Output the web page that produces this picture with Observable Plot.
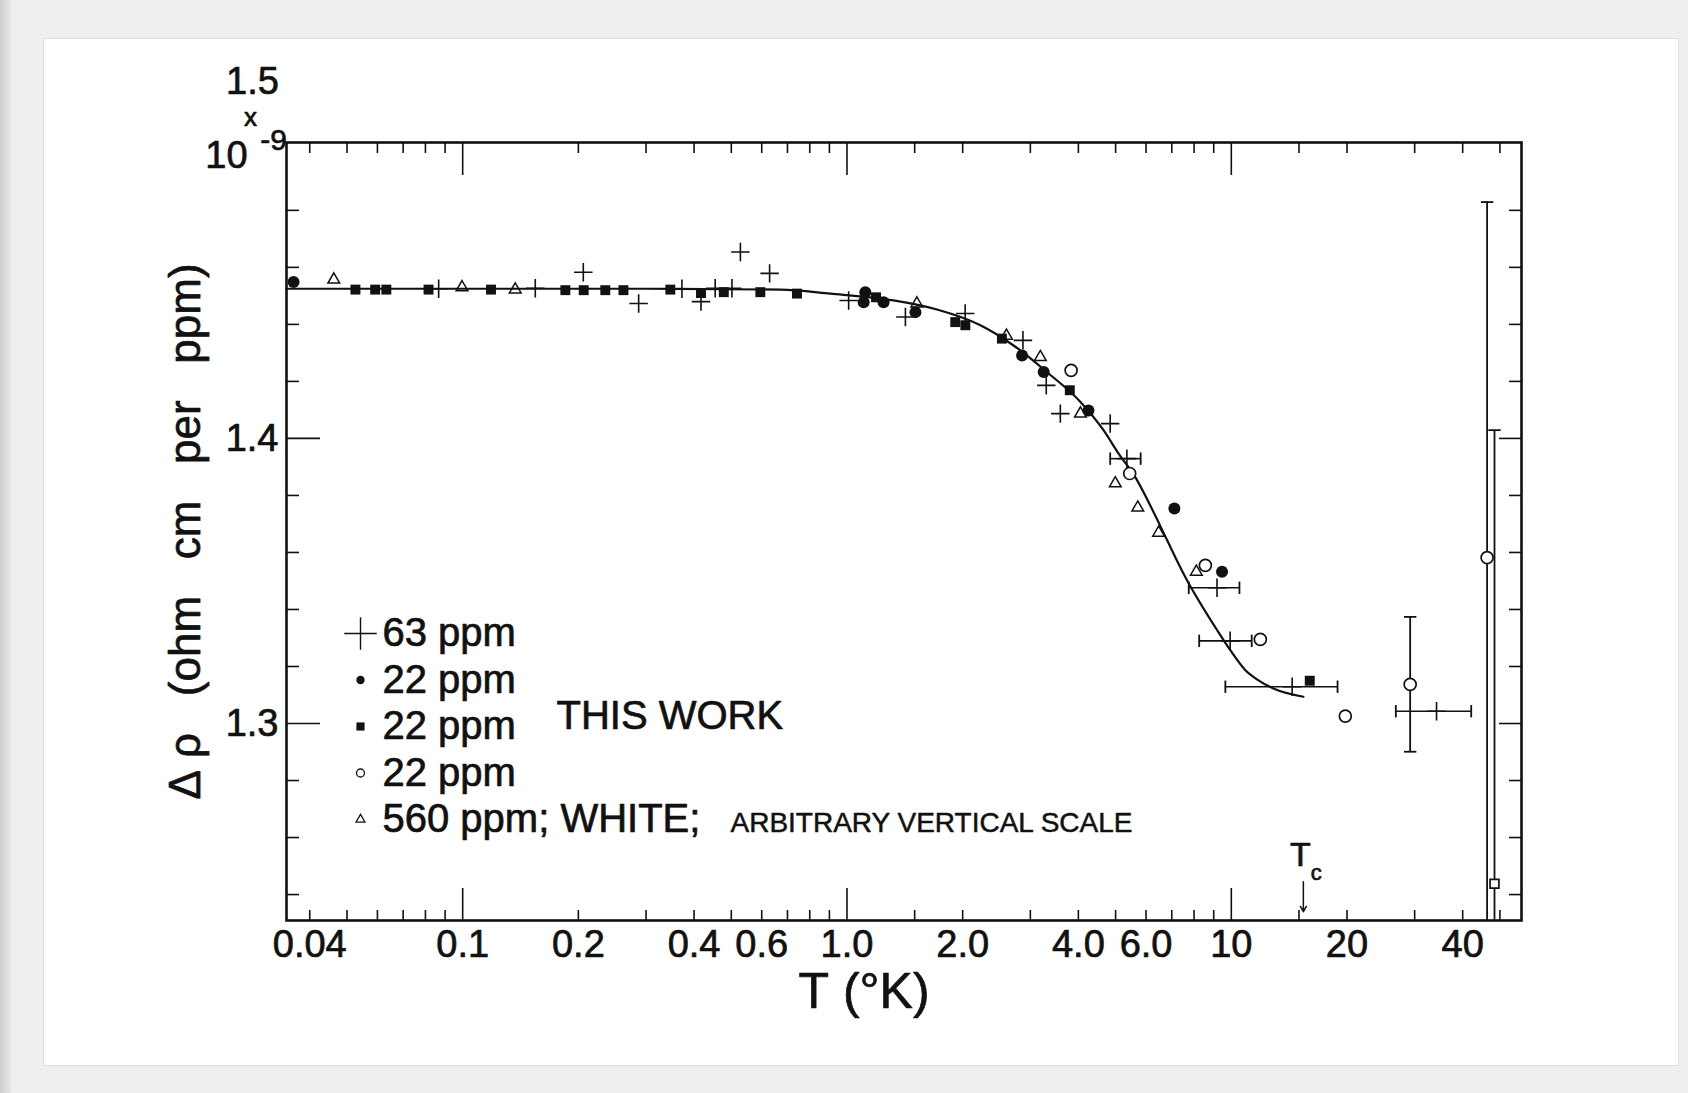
<!DOCTYPE html>
<html><head><meta charset="utf-8">
<script src="https://cdn.jsdelivr.net/npm/d3@7"></script>
<script src="https://cdn.jsdelivr.net/npm/@observablehq/plot@0.6"></script>
<style>
html,body{margin:0;padding:0;}
body{width:1688px;height:1093px;background:#efefef;position:relative;overflow:hidden;font-family:"Liberation Sans",Arial,sans-serif;}
#strip{position:absolute;left:0;top:0;width:11px;height:1093px;background:linear-gradient(to right,#cdcdcd,#e8e8e8);}
#card{position:absolute;left:43px;top:38px;width:1636px;height:1028px;background:#fff;border:1px solid #e2e2e2;box-sizing:border-box;}
#chart{position:absolute;left:0;top:0;}
</style></head><body>
<div id="strip"></div><div id="card"></div><div id="chart"></div>
<script>
// ---------- data (T in K, Δρ in 1e-9 ohm cm per ppm) ----------
const plus63 = [
  [0.0866,1.4525],[0.1545,1.4527],[0.206,1.4583],[0.287,1.4473],[0.372,1.4525],
  [0.417,1.4480],[0.454,1.4527],[0.502,1.4527],[0.528,1.4654],[0.629,1.4579],
  [1.01,1.4484],[1.419,1.4426],[2.03,1.4438],[2.87,1.4344],[3.30,1.4186],
  [3.59,1.4087],[4.84,1.4052],[5.35,1.3929],[9.18,1.3476],[9.93,1.3290],
  [14.4,1.3129],[34.2,1.3043]
];
// [T, value, T low, T high]
const plus63XErr = [
  [5.35,1.3929,4.84,5.81],[9.18,1.3476,7.75,10.5],[9.93,1.3290,8.25,11.3],
  [14.4,1.3129,9.65,18.9],[34.2,1.3043,26.8,42.1]
];
const filled22 = [
  [0.0363,1.4549],[1.105,1.4478],[1.116,1.4513],[1.245,1.4478],[1.507,1.4443],
  [2.855,1.4291],[3.25,1.4233],[4.25,1.4098],[7.11,1.3754],[9.46,1.3532]
];
const square22 = [
  [0.0526,1.4522],[0.0592,1.4522],[0.0633,1.4522],[0.0815,1.4522],[0.1185,1.4522],
  [0.185,1.4520],[0.2065,1.4520],[0.235,1.4520],[0.262,1.4520],[0.347,1.4522],
  [0.417,1.4510],[0.478,1.4513],[0.595,1.4513],[0.741,1.4508],[1.19,1.4495],
  [1.913,1.4408],[2.032,1.4397],[2.53,1.4350],[3.80,1.4169],[16.0,1.3150]
];
const open22 = [
  [3.83,1.4239],[5.44,1.3877],[8.56,1.3555],[11.9,1.3295],[19.8,1.3026],
  [29.2,1.3137],[46.3,1.3582]
];
const openSquare = [[48.4,1.2438]];
// [T, value low, value high]
const open22YErr = [[29.2,1.2901,1.3374],[46.3,1.20,1.4829],[48.4,1.20,1.4029]];
const tri560 = [
  [0.0462,1.4557],[0.0996,1.4530],[0.137,1.4522],[1.52,1.4473],[2.60,1.4360],
  [3.185,1.4285],[4.05,1.4087],[4.99,1.3842],[5.71,1.3757],[6.47,1.3669],[8.11,1.3532]
];
const fitCurve = [
  [0.0348,1.4525],[0.3,1.4525],[0.67,1.4522],[0.905,1.4508],[1.322,1.4484],
  [1.715,1.4452],[2.224,1.4397],[2.713,1.4326],[3.31,1.4233],[4.05,1.4128],
  [4.65,1.4029],[5.09,1.3947],[5.62,1.3865],[6.33,1.3731],[6.74,1.3655],
  [7.59,1.3514],[9.18,1.3328],[9.94,1.3257],[10.88,1.3187],[11.66,1.3155],
  [12.87,1.3123],[15.4,1.3094]
];
const tc = [[15.4, 1.2445, 1.2340]];
// ---------- axes / labels ----------
const xLabelTicks = [0.04,0.1,0.2,0.4,0.6,1,2,4,6,10,20,40];
const xLabelText  = ["0.04","0.1","0.2","0.4","0.6","1.0","2.0","4.0","6.0","10","20","40"];
const xMinorTicks = [0.04,0.05,0.06,0.07,0.08,0.09,0.2,0.3,0.4,0.5,0.6,0.7,0.8,0.9,1.5,2,3,4,5,6,7,8,9,15,20,30,40,50];
const xMajorTicks = [0.1,1,10];
const yLabelTicks = [1.3,1.4];
const yLabelText  = ["1.3","1.4"];
const yMinorTicks = [1.24,1.26,1.28,1.32,1.34,1.36,1.38,1.42,1.44,1.46,1.48];
const legendLabels = ["63 ppm","22 ppm","22 ppm","22 ppm","560 ppm; WHITE;"];
const legendNote = "ARBITRARY VERTICAL SCALE";
const thisWork = "THIS WORK";
const xTitle = "T\u00A0(°K)";
const yTitle = "Δ\u00A0ρ\u00A0\u00A0\u00A0(ohm\u00A0\u00A0\u00A0cm\u00A0\u00A0\u00A0per\u00A0\u00A0\u00A0ppm)";

// ---------- layout ----------
const W = 1688, H = 1093, mL = 286, mR = 167, mT = 142, mB = 173;
const FW = W - mL - mR, FH = H - mT - mB;
const INK = "#111";
const TS = {fill: INK, stroke: INK, strokeWidth: 0.7};   // slightly heavy lettering
const X = d => d[0], Y = d => d[1];
const vbar = {draw(ctx, size){ const h = Math.sqrt(size) / 2; ctx.moveTo(0,-h); ctx.lineTo(0,h); }};
const hbar = {draw(ctx, size){ const h = Math.sqrt(size) / 2; ctx.moveTo(-h,0); ctx.lineTo(h,0); }};
const rowY = i => 491 + i * 46.5;
const legendSyms = [
  {symbol:"plus", r:10.5, fill:"none", stroke:INK, sw:1.4},
  {symbol:"circle", r:4.2, fill:INK, stroke:"none", sw:0},
  {symbol:"square", r:4.6, fill:INK, stroke:"none", sw:0},
  {symbol:"circle", r:4, fill:"white", stroke:INK, sw:1.3},
  {symbol:"triangle2", r:4.2, fill:"none", stroke:INK, sw:1.3}
];
const FONT = "'Liberation Sans', Arial, sans-serif";

const marks = [
  // ticks (inward)
  Plot.ruleX(xMinorTicks, {x: d=>d, insetTop: FH-10, stroke: INK, strokeWidth: 1.6}),
  Plot.ruleX(xMajorTicks, {x: d=>d, insetTop: FH-32, stroke: INK, strokeWidth: 1.6}),
  Plot.ruleX(xMinorTicks, {x: d=>d, insetBottom: FH-11, stroke: INK, strokeWidth: 1.6}),
  Plot.ruleX(xMajorTicks, {x: d=>d, insetBottom: FH-33, stroke: INK, strokeWidth: 1.6}),
  Plot.ruleY(yMinorTicks, {y: d=>d, insetRight: FW-13, stroke: INK, strokeWidth: 1.6}),
  Plot.ruleY(yLabelTicks, {y: d=>d, insetRight: FW-34, stroke: INK, strokeWidth: 1.6}),
  Plot.ruleY(yMinorTicks, {y: d=>d, insetLeft: FW-12, stroke: INK, strokeWidth: 1.6}),
  Plot.ruleY(yLabelTicks, {y: d=>d, insetLeft: FW-22, stroke: INK, strokeWidth: 1.6}),
  Plot.frame({stroke: INK, strokeWidth: 2.6}),
  // tick labels
  Plot.text(xLabelTicks, {x: d=>d, text: (d,i)=>xLabelText[i], frameAnchor:"bottom", dy: 10, textAnchor:"middle", lineAnchor:"top", fontSize: 38, ...TS}),
  Plot.text(yLabelTicks, {y: d=>d, text: (d,i)=>yLabelText[i], frameAnchor:"left", dx: -8, textAnchor:"end", lineAnchor:"middle", fontSize: 38, ...TS}),
  Plot.text(["1.5"], {frameAnchor:"top-left", dx:-34, dy:-61, text:d=>d, fontSize:38, textAnchor:"middle", lineAnchor:"middle", ...TS}),
  Plot.text(["x"], {frameAnchor:"top-left", dx:-36, dy:-25, text:d=>d, fontSize:26, textAnchor:"middle", lineAnchor:"middle", ...TS}),
  Plot.text(["10"], {frameAnchor:"top-left", dx:-60, dy:13, text:d=>d, fontSize:38, textAnchor:"middle", lineAnchor:"middle", ...TS}),
  Plot.text(["-9"], {frameAnchor:"top-left", dx:-13, dy:-2, text:d=>d, fontSize:30, textAnchor:"middle", lineAnchor:"middle", ...TS}),
  // axis titles
  Plot.text([xTitle], {frameAnchor:"bottom", dx:-40, dy:52, text:d=>d, textAnchor:"middle", lineAnchor:"top", fontSize:50, ...TS}),
  Plot.text([yTitle], {frameAnchor:"left", dx:-101, rotate:-90, text:d=>d, textAnchor:"middle", lineAnchor:"middle", fontSize:44, ...TS}),
  // fitted curve
  Plot.line(fitCurve, {x: X, y: Y, curve: "monotone-x", stroke: INK, strokeWidth: 2.2}),
  // error bars
  Plot.ruleY(plus63XErr, {y: d=>d[1], x1: d=>d[2], x2: d=>d[3], stroke: INK, strokeWidth: 1.6}),
  Plot.dot(plus63XErr, {x: d=>d[2], y: d=>d[1], symbol: vbar, r: 7, stroke: INK, strokeWidth: 1.8, fill: "none"}),
  Plot.dot(plus63XErr, {x: d=>d[3], y: d=>d[1], symbol: vbar, r: 7, stroke: INK, strokeWidth: 1.8, fill: "none"}),
  Plot.ruleX(open22YErr, {x: d=>d[0], y1: d=>d[1], y2: d=>d[2], stroke: INK, strokeWidth: 1.8, clip: true}),
  Plot.dot(open22YErr, {x: d=>d[0], y: d=>d[2], symbol: hbar, r: 7, stroke: INK, strokeWidth: 1.8, fill: "none"}),
  Plot.dot(open22YErr.filter(d=>d[1] > 1.2309), {x: d=>d[0], y: d=>d[1], symbol: hbar, r: 7, stroke: INK, strokeWidth: 1.8, fill: "none"}),
  // data
  Plot.dot(square22, {x: X, y: Y, symbol: "square", r: 5.6, fill: INK}),
  Plot.dot(filled22, {x: X, y: Y, symbol: "circle", r: 6, fill: INK}),
  Plot.dot(open22, {x: X, y: Y, symbol: "circle", r: 6, fill: "white", stroke: INK, strokeWidth: 1.7}),
  Plot.dot(openSquare, {x: X, y: Y, symbol: "square", r: 5, fill: "white", stroke: INK, strokeWidth: 1.7}),
  Plot.dot(tri560, {x: X, y: Y, symbol: "triangle2", r: 5.6, fill: "none", stroke: INK, strokeWidth: 1.5}),
  Plot.dot(plus63, {x: X, y: Y, symbol: "plus", r: 6, fill: "none", stroke: INK, strokeWidth: 1.6}),
  // Tc marker
  Plot.arrow(tc, {x1: d=>d[0], x2: d=>d[0], y1: d=>d[1], y2: d=>d[2], stroke: INK, strokeWidth: 1.5, headLength: 6}),
  Plot.text(tc, {x: d=>d[0], y: d=>d[1], text: ()=>"T", dx:-3, dy:-27, fontSize: 34, textAnchor:"middle", lineAnchor:"middle", ...TS}),
  Plot.text(tc, {x: d=>d[0], y: d=>d[1], text: ()=>"c", dx:13, dy:-9, fontSize: 22, textAnchor:"middle", lineAnchor:"middle", ...TS}),
  // legend
  ...legendSyms.map((s,i) => Plot.dot([0], {frameAnchor:"top-left", dx:74, dy:rowY(i), symbol:s.symbol, r:s.r, fill:s.fill, stroke:s.stroke, strokeWidth:s.sw})),
  ...legendLabels.map((t,i) => Plot.text([t], {frameAnchor:"top-left", dx:96, dy:rowY(i), text:d=>d, textAnchor:"start", lineAnchor:"middle", fontSize:40, ...TS})),
  Plot.text([legendNote], {frameAnchor:"top-left", dx:444, dy:rowY(4)+4, text:d=>d, textAnchor:"start", lineAnchor:"middle", fontSize:28, ...TS, strokeWidth:0.5}),
  Plot.text([thisWork], {frameAnchor:"top-left", dx:270, dy:574, text:d=>d, textAnchor:"start", lineAnchor:"middle", fontSize:40, ...TS})
];

const chart = Plot.plot({
  width: W, height: H,
  marginLeft: mL, marginRight: mR, marginTop: mT, marginBottom: mB,
  x: {type: "log", domain: [0.0348, 56.9], axis: null},
  y: {domain: [1.2309, 1.5038], axis: null},
  style: {background: "transparent", fontFamily: FONT, color: INK, overflow: "visible"},
  marks
});
document.getElementById("chart").appendChild(chart);
</script></body></html>
